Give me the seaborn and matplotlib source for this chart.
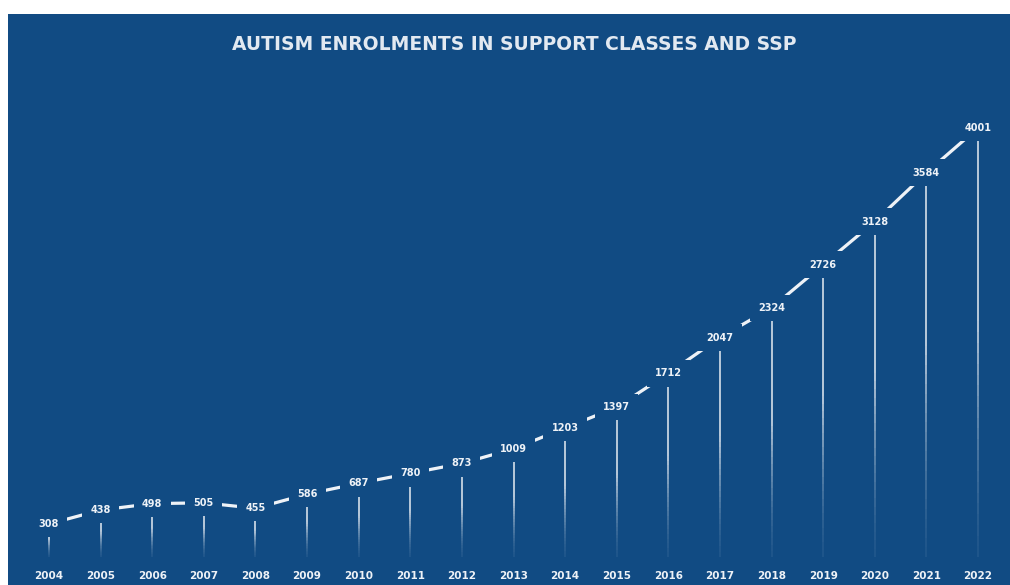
import numpy as np
import pandas as pd
import matplotlib
matplotlib.use("Agg")
import matplotlib.pyplot as plt
import seaborn as sns

years = [2004, 2005, 2006, 2007, 2008, 2009, 2010, 2011, 2012, 2013,
         2014, 2015, 2016, 2017, 2018, 2019, 2020, 2021, 2022]
enrolments = [308, 438, 498, 505, 455, 586, 687, 780, 873, 1009,
              1203, 1397, 1712, 2047, 2324, 2726, 3128, 3584, 4001]
title = "AUTISM ENROLMENTS IN SUPPORT CLASSES AND SSP"

BG = "#114b83"
FG = "#eef2f7"

sns.set_theme(style="white")
plt.rcParams["font.family"] = ["DejaVu Sans"]

fig = plt.figure(figsize=(10.1, 5.85), dpi=100, facecolor="white")
W, H = 1010, 585
bg = fig.add_axes([8 / W, 0, 1 - 8 / W, 1 - 14 / H])
bg.set_facecolor(BG)
bg.set_xticks([]); bg.set_yticks([])
for s in bg.spines.values():
    s.set_visible(False)

ax = fig.add_axes([0, 0, 1, 1])
ax.patch.set_alpha(0)
for s in ax.spines.values():
    s.set_visible(False)

df = pd.DataFrame({"year": years, "value": enrolments})

# scale: 2004 -> x=49 px, 2022 -> x=978 px ; value 0 -> y=557 px, 4001 -> y=128 px
px_per_year = (978 - 49) / 18
xmin = 2004 - 49 / px_per_year
xmax = xmin + W / px_per_year
px_per_val = (557 - 128) / 4001
ymax = 557 / px_per_val
ymin = -(H - 557) / px_per_val
ax.set_xlim(xmin, xmax)
ax.set_ylim(ymin, ymax)

# fading drop lines
nseg = 40
for x, v in zip(years, enrolments):
    edges = np.linspace(0, v, nseg + 1)
    for i in range(nseg):
        t = (edges[i] + edges[i + 1]) / 2 / v
        a = 0.07 + 0.75 * np.clip(t / 0.55, 0, 1) ** 1.6
        ax.vlines(x, edges[i], edges[i + 1], color=FG, alpha=a, lw=1.3, zorder=2)

sns.lineplot(data=df, x="year", y="value", ax=ax, color=FG, linewidth=2.3,
             zorder=3, legend=False)

for x, v in zip(years, enrolments):
    ax.text(x, v, f"{v}", ha="center", va="center", fontsize=7, fontweight="bold",
            color=FG, zorder=5,
            bbox=dict(boxstyle="square,pad=0.85", fc=BG, ec="none"))

ax.set_xticks(years)
ax.set_xticklabels([str(y) for y in years])
ax.tick_params(axis="x", direction="in", pad=-10, length=0, labelsize=7.5,
               labelcolor=FG)
for lbl in ax.get_xticklabels():
    lbl.set_fontweight("bold")
ax.set_yticks([])
ax.set_xlabel(""); ax.set_ylabel("")

fig.text(514 / W, 1 - 45 / H, title, ha="center", va="center", fontsize=13.5,
         fontweight="bold", color="#e2e9f1")

fig.savefig("out.png", dpi=100, facecolor="white")
